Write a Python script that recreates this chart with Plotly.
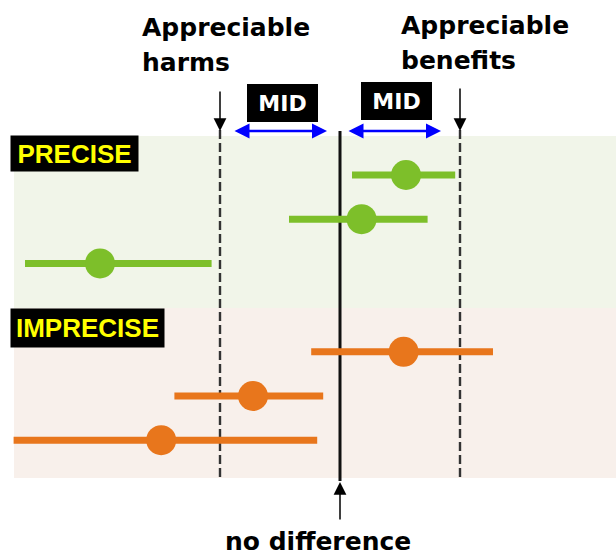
import plotly.graph_objects as go

# ---- data (effect estimates with confidence intervals) ----
groups = ["PRECISE", "PRECISE", "PRECISE", "IMPRECISE", "IMPRECISE", "IMPRECISE"]
rows = [0, 1, 2, 4, 5, 6]
estimate = [0.55, 0.18, -2.0, 0.53, -0.725, -1.49]
ci_low = [0.10, -0.425, -2.625, -0.24, -1.38, -2.72]
ci_high = [0.96, 0.73, -1.07, 1.275, -0.14, -0.19]
thresholds = [-1.0, 1.0]      # appreciable harms / appreciable benefits
no_difference = 0.0
group_labels = ["PRECISE", "IMPRECISE"]
colors = {"PRECISE": "#7dbf2a", "IMPRECISE": "#e8761c"}

# ---- layout helpers (page pixel -> axis units, for decoration placement) ----
W, H = 616, 556
X0PX, XS = 340, 120
Y0PX, YS = 175, 44.2


def vx(px):
    return (px - X0PX) / XS


def vy(py):
    return (py - Y0PX) / YS


fig = go.Figure()

for g in group_labels:
    xs, ys = [], []
    mx, my = [], []
    for i in range(len(rows)):
        if groups[i] != g:
            continue
        xs += [ci_low[i], ci_high[i], None]
        ys += [rows[i], rows[i], None]
        mx.append(estimate[i])
        my.append(rows[i])
    fig.add_trace(go.Scatter(x=xs, y=ys, mode="lines",
                             line=dict(color=colors[g], width=7),
                             hoverinfo="skip", showlegend=False))
    fig.add_trace(go.Scatter(x=mx, y=my, mode="markers",
                             marker=dict(color=colors[g], size=30, line=dict(width=0)),
                             showlegend=False))

shapes = [
    dict(type="rect", xref="x", yref="y", x0=vx(14), x1=vx(616), y0=vy(136), y1=vy(308),
         fillcolor="#f1f5e9", line=dict(width=0), layer="below"),
    dict(type="rect", xref="x", yref="y", x0=vx(14), x1=vx(616), y0=vy(308), y1=vy(478),
         fillcolor="#f8f0eb", line=dict(width=0), layer="below"),
]
for t in thresholds:
    shapes.append(dict(type="line", xref="x", yref="y", x0=t, x1=t, y0=vy(130), y1=vy(478),
                       line=dict(color="#333333", width=2.4, dash="9px,4px"), layer="below"))
shapes.append(dict(type="line", xref="x", yref="y", x0=no_difference, x1=no_difference,
                   y0=vy(131), y1=vy(481), line=dict(color="#111111", width=3), layer="below"))

BOLD = "DejaVu Sans"
ann = []


def text(s, px, py, size, color="black", family=BOLD, xanchor="left", **kw):
    d = dict(text=s, x=vx(px), y=vy(py), xref="x", yref="y", showarrow=False,
             xanchor=xanchor, yanchor="middle",
             font=dict(family=family, size=size, color=color, weight="bold"))
    d.update(kw)
    ann.append(d)


text("Appreciable", 140, 27, 25)
text("harms", 140, 62, 25)
text("Appreciable", 399, 25, 25)
text("benefits", 399, 60, 25)
text("no difference", 318, 541, 25, xanchor="center")

# MID boxes
for cx, cy in [(282.5, 102.5), (396, 101)]:
    text("MID", cx, cy, 22, color="white", xanchor="center",
         bgcolor="black", width=71, height=38, borderpad=0, borderwidth=0)

# group labels
text("PRECISE", 10, 153, 26, color="#ffff00", family="Liberation Sans",
     bgcolor="black", width=127, height=35, borderpad=0)
text("IMPRECISE", 10, 328, 26, color="#ffff00", family="Liberation Sans",
     bgcolor="black", width=153, height=38, borderpad=0)


def arrow(x, y, ax, ay, color="black", width=1.5, both=False, size=1.7):
    d = dict(text="", x=x, y=y, ax=ax, ay=ay, xref="x", yref="y", axref="x", ayref="y",
             showarrow=True, arrowhead=2, arrowsize=size, arrowwidth=width,
             arrowcolor=color, standoff=0, startstandoff=0)
    if both:
        d.update(arrowside="end+start", startarrowhead=2, startarrowsize=size)
    ann.append(d)


arrow(thresholds[0], vy(131), thresholds[0], vy(90))
arrow(thresholds[1], vy(131), thresholds[1], vy(87))
arrow(no_difference, vy(482), no_difference, vy(521))
arrow(vx(327), vy(131), vx(233), vy(131), color="#0000ff", width=2.5, both=True, size=1.2)
arrow(vx(441), vy(131), vx(347), vy(131), color="#0000ff", width=2.5, both=True, size=1.2)

fig.update_layout(
    width=W, height=H, margin=dict(l=0, r=0, t=0, b=0),
    paper_bgcolor="white", plot_bgcolor="white",
    xaxis=dict(range=[vx(0), vx(W)], visible=False, fixedrange=True),
    yaxis=dict(range=[vy(H), vy(0)], visible=False, fixedrange=True),
    shapes=shapes, annotations=ann, showlegend=False, hovermode=False,
)

fig.write_html("out.html", config={"displayModeBar": False},
               post_script="document.body.style.margin='0px';document.body.style.overflow='hidden';")
